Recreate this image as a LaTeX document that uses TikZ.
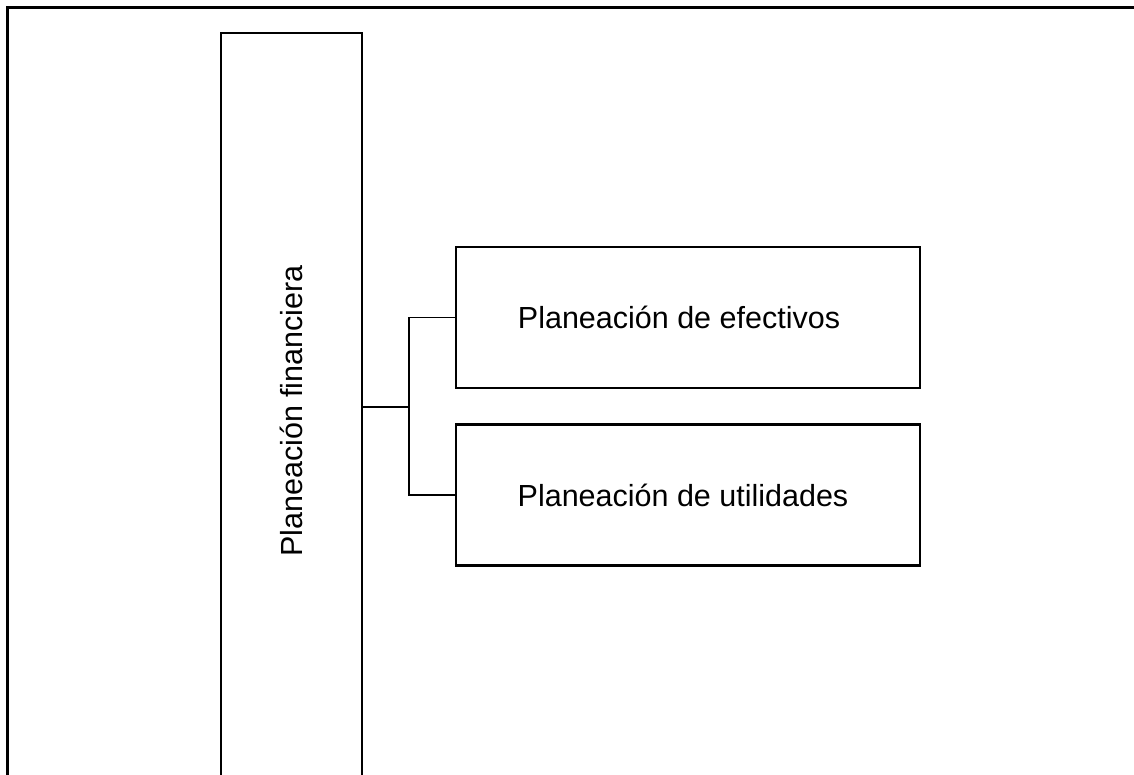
\documentclass[tikz,border=0pt]{standalone}
\usepackage{fontspec}
\setmainfont{Liberation Sans}
\begin{document}
\begin{tikzpicture}[x=1pt,y=-1pt,
  frame/.style={line width=2.8pt,black},
  box/.style={draw,line width=2.1pt,rectangle,inner sep=0pt},
  conn/.style={line width=1.8pt},
  lbl/.style={font=\fontsize{30.5}{36}\selectfont,inner sep=0pt}]
\useasboundingbox (0,0) rectangle (1134,775);
\clip (0,0) rectangle (1134,775);
\fill[white] (0,0) rectangle (1134,775);
\draw[frame] (7.5,800) -- (7.5,7.5) -- (1150,7.5);
\node[box,minimum width=141pt,minimum height=748pt] (pf) at (291.5,407) {};
\node[lbl,rotate=90] (pft) at (291.5,411) {Planeación financiera};
\node[box,minimum width=464pt,minimum height=141pt] (b1) at (688,317.5) {};
\node[lbl] (t1) at (679,317.5) {Planeación de efectivos};
\node[box,minimum width=464pt,minimum height=141pt] (b2) at (688,495) {};
\node[lbl] (t2) at (683,495) {Planeación de utilidades};
\coordinate (j) at (409,407);
\draw[conn] (pf.east) -- (j) |- (b1.west);
\draw[conn] (j) |- (b2.west);
\end{tikzpicture}
\end{document}
